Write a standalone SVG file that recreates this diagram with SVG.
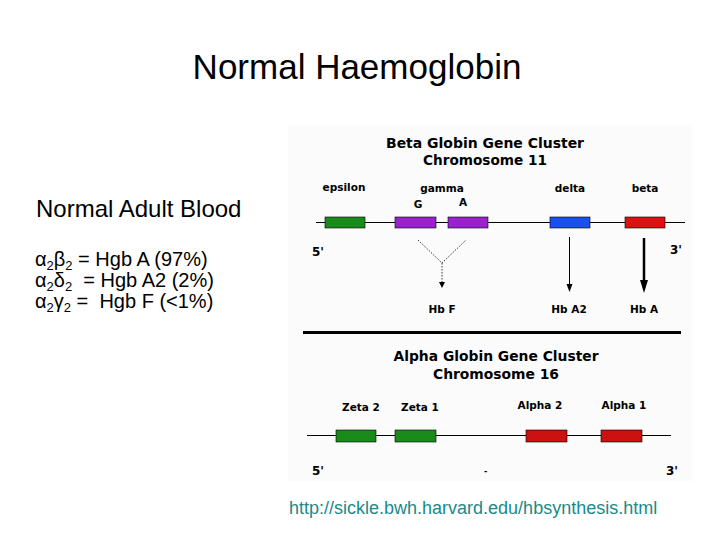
<svg xmlns="http://www.w3.org/2000/svg" width="720" height="540" viewBox="0 0 720 540">
<style>
.t{font-family:"Liberation Sans",Arial,sans-serif;fill:#000}
.pix{font-family:"DejaVu Sans","Liberation Sans",sans-serif;font-weight:bold;fill:#000}
.lab{font-size:10.5px}
.hd{font-size:13.5px}
.gene{stroke:#000;stroke-width:0.6}
.chr{stroke:#000;stroke-width:1}
</style>
<rect width="720" height="540" fill="#fff"/>
<text class="t" x="357" y="79" font-size="35" text-anchor="middle">Normal Haemoglobin</text>
<g id="left-text">
<text class="t" x="36" y="217" font-size="24">Normal Adult Blood</text>
<text class="t" x="35" y="266" font-size="20" xml:space="preserve">α<tspan font-size="13" dy="4">2</tspan><tspan dy="-4">β</tspan><tspan font-size="13" dy="4">2</tspan><tspan dy="-4"> = Hgb A (97%)</tspan></text>
<text class="t" x="35" y="287" font-size="20" xml:space="preserve">α<tspan font-size="13" dy="4">2</tspan><tspan dy="-4">δ</tspan><tspan font-size="13" dy="4">2</tspan><tspan dy="-4">  = Hgb A2 (2%)</tspan></text>
<text class="t" x="35" y="308" font-size="20" xml:space="preserve">α<tspan font-size="13" dy="4">2</tspan><tspan dy="-4">γ</tspan><tspan font-size="13" dy="4">2</tspan><tspan dy="-4"> =  Hgb F (&lt;1%)</tspan></text>
</g>
<rect x="288" y="125" width="405" height="356" fill="#fbfbfb"/>
<g id="beta-cluster">
<text class="pix hd" x="485" y="148" text-anchor="middle" textLength="198" lengthAdjust="spacingAndGlyphs">Beta Globin Gene Cluster</text>
<text class="pix hd" x="485" y="165" text-anchor="middle" textLength="124" lengthAdjust="spacingAndGlyphs">Chromosome 11</text>
<line class="chr" x1="316" y1="222.5" x2="685" y2="222.5"/>
<g id="epsilon"><rect class="gene" x="325" y="217" width="40" height="11" fill="#1a8a1a"/><text class="pix lab" x="344" y="191" text-anchor="middle">epsilon</text></g>
<g id="gamma"><text class="pix lab" x="442" y="192" text-anchor="middle">gamma</text></g>
<g id="gammaG"><rect class="gene" x="395" y="217" width="41" height="11" fill="#9922cc"/><text class="pix lab" x="418" y="208" text-anchor="middle">G</text></g>
<g id="gammaA"><rect class="gene" x="448" y="217" width="40" height="11" fill="#9922cc"/><text class="pix lab" x="463" y="206" text-anchor="middle">A</text></g>
<g id="delta"><rect class="gene" x="550" y="217" width="40" height="11" fill="#1a4ff0"/><text class="pix lab" x="570" y="192" text-anchor="middle">delta</text></g>
<g id="beta"><rect class="gene" x="625" y="217" width="40" height="11" fill="#dd1111"/><text class="pix lab" x="645" y="192" text-anchor="middle">beta</text></g>
<text class="pix" x="312" y="256" font-size="12">5'</text>
<text class="pix" x="670" y="254" font-size="12">3'</text>
<g id="hbF"><text class="pix lab" x="442" y="313" text-anchor="middle">Hb F</text></g>
<g id="hbA2"><text class="pix lab" x="569" y="313" text-anchor="middle">Hb A2</text></g>
<g id="hbA"><text class="pix lab" x="644" y="313" text-anchor="middle">Hb A</text></g>
</g>
<g id="connectors" fill="none" stroke="#000">
<polyline points="418,240 442,263 466,240" stroke-width="0.8" stroke-dasharray="1.5,1.5"/>
<line x1="442" y1="263" x2="442" y2="282" stroke-width="0.8" stroke-dasharray="1.5,1.5"/>
<path d="M439,282 L445,282 L442,288 Z" fill="#000" stroke="none"/>
<line x1="569.5" y1="237" x2="569.5" y2="285" stroke-width="1"/>
<path d="M566.5,284 L572.5,284 L569.5,292 Z" fill="#000" stroke="none"/>
<line x1="644" y1="238" x2="644" y2="283" stroke-width="2.5"/>
<path d="M640,280 L648,280 L644,293 Z" fill="#000" stroke="none"/>
</g>
<line x1="303" y1="332.5" x2="681" y2="332.5" stroke="#000" stroke-width="3"/>
<g id="alpha-cluster">
<text class="pix hd" x="496" y="361" text-anchor="middle" textLength="205" lengthAdjust="spacingAndGlyphs">Alpha Globin Gene Cluster</text>
<text class="pix hd" x="496" y="379" text-anchor="middle" textLength="126" lengthAdjust="spacingAndGlyphs">Chromosome 16</text>
<line class="chr" x1="307" y1="435.5" x2="671" y2="435.5"/>
<g id="zeta2"><rect class="gene" x="336" y="430" width="40" height="12" fill="#1a8a1a"/><text class="pix lab" x="361" y="411" text-anchor="middle">Zeta 2</text></g>
<g id="zeta1"><rect class="gene" x="395" y="430" width="41" height="12" fill="#1a8a1a"/><text class="pix lab" x="420" y="411" text-anchor="middle">Zeta 1</text></g>
<g id="alpha2"><rect class="gene" x="526" y="430" width="41" height="12" fill="#cc1111"/><text class="pix lab" x="540" y="409" text-anchor="middle">Alpha 2</text></g>
<g id="alpha1"><rect class="gene" x="601" y="430" width="41" height="12" fill="#cc1111"/><text class="pix lab" x="624" y="409" text-anchor="middle">Alpha 1</text></g>
<text class="pix" x="312" y="475" font-size="12">5'</text>
<text class="pix" x="484" y="474" font-size="8">-</text>
<text class="pix" x="666" y="475" font-size="12">3'</text>
</g>
<text class="t" x="289" y="514" font-size="18" style="fill:#1a8a8a">http://sickle.bwh.harvard.edu/hbsynthesis.html</text>
</svg>
